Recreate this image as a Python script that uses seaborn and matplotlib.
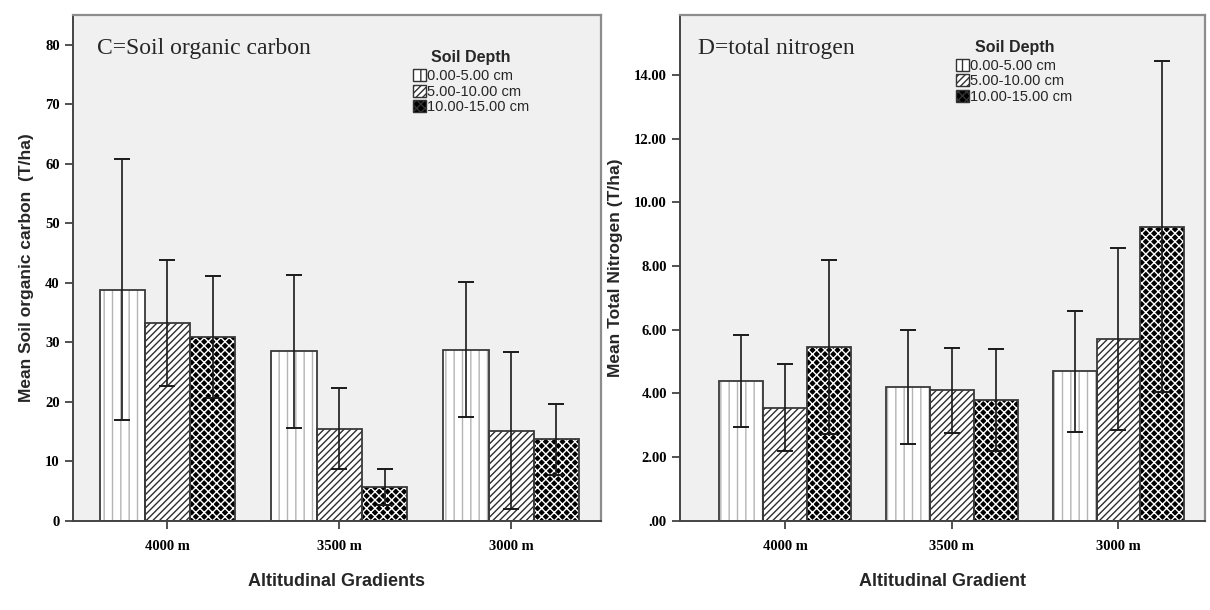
import numpy as np
import pandas as pd
import matplotlib
matplotlib.use("Agg")
import matplotlib.pyplot as plt
from matplotlib.patches import Patch, Rectangle
from matplotlib.ticker import FuncFormatter
import seaborn as sns

# ---------------- data ----------------
altitudes = ["4000 m", "3500 m", "3000 m"]
depths = ["0.00-5.00 cm", "5.00-10.00 cm", "10.00-15.00 cm"]

soc_0_5 = [38.9, 28.5, 28.8]
soc_5_10 = [33.2, 15.5, 15.2]
soc_10_15 = [30.9, 5.7, 13.7]
soc_err_0_5 = [22.0, 12.85, 11.4]
soc_err_5_10 = [10.6, 6.8, 13.2]
soc_err_10_15 = [10.3, 3.0, 6.0]

tn_0_5 = [4.39, 4.21, 4.70]
tn_5_10 = [3.56, 4.10, 5.71]
tn_10_15 = [5.45, 3.80, 9.24]
tn_err_0_5 = [1.44, 1.78, 1.90]
tn_err_5_10 = [1.38, 1.33, 2.85]
tn_err_10_15 = [2.73, 1.60, 5.20]

soc_ticks = [0, 10, 20, 30, 40, 50, 60, 70, 80]
tn_ticks = [0, 2, 4, 6, 8, 10, 12, 14]


def make_df(v0, v1, v2, e0, e1, e2):
    rows = []
    for d, vals, errs in zip(depths, [v0, v1, v2], [e0, e1, e2]):
        for a, v, e in zip(altitudes, vals, errs):
            rows.append({"alt": a, "depth": d, "value": v, "err": e})
    return pd.DataFrame(rows)


soc_df = make_df(soc_0_5, soc_5_10, soc_10_15, soc_err_0_5, soc_err_5_10, soc_err_10_15)
tn_df = make_df(tn_0_5, tn_5_10, tn_10_15, tn_err_0_5, tn_err_5_10, tn_err_10_15)

# ---------------- style ----------------
sns.set_style("ticks")
plt.rcParams["font.family"] = ["Liberation Sans", "DejaVu Sans"]
plt.rcParams["hatch.linewidth"] = 1.0

SERIF = ["Liberation Serif", "DejaVu Serif"]
SANS = ["Liberation Sans", "DejaVu Sans"]

styles = [
    dict(face="white", hatch="||", hcolor="#b4b4b4"),
    dict(face="white", hatch="/////", hcolor="#2e2e2e"),
    dict(face="black", hatch="xxxx", hcolor="white"),
]

fig = plt.figure(figsize=(12.1, 6.1), dpi=100)
ax1 = fig.add_axes([0.0603, 0.146, 0.436, 0.829])
ax2 = fig.add_axes([0.562, 0.146, 0.434, 0.829])


def draw(ax, df, ymax, ticks, fmt, ylabel, xlabel, title, title_x, xlim, leg_anchor):
    ax.set_facecolor("#F0F0F0")
    sns.barplot(data=df, x="alt", y="value", hue="depth", order=altitudes,
                hue_order=depths, errorbar=None, width=0.79, ax=ax,
                legend=False, saturation=1)
    for cont, st, d in zip(ax.containers, styles, depths):
        sub = df[df["depth"] == d].set_index("alt").loc[altitudes]
        xs, hs = [], []
        for p in cont.patches:
            p.set_facecolor(st["face"])
            p.set_hatch(st["hatch"])
            p.set_edgecolor(st["hcolor"])
            p.set_linewidth(0)
            ax.add_patch(Rectangle(p.get_xy(), p.get_width(), p.get_height(),
                                   fill=False, edgecolor="#3a3a3a", lw=1.3, zorder=2.5))
            xs.append(p.get_x() + p.get_width() / 2)
            hs.append(p.get_height())
        ax.errorbar(xs, hs, yerr=sub["err"].values, fmt="none", ecolor="#1a1a1a",
                    elinewidth=1.2, capsize=5.5, capthick=1.4, zorder=4)
    ax.set_xlim(*xlim)
    ax.set_ylim(0, ymax)
    ax.set_yticks(ticks)
    ax.yaxis.set_major_formatter(FuncFormatter(fmt))
    for lab in ax.get_yticklabels() + ax.get_xticklabels():
        lab.set_fontfamily(SERIF)
        lab.set_fontweight("bold")
        lab.set_fontsize(10.5)
    ax.tick_params(axis="both", direction="out", length=6, width=1.2, colors="#333333",
                   labelcolor="black")
    ax.tick_params(axis="x", pad=8)
    for s in ["left", "bottom"]:
        ax.spines[s].set_color("#444444")
        ax.spines[s].set_linewidth(1.4)
    for s in ["top", "right"]:
        ax.spines[s].set_visible(True)
        ax.spines[s].set_color("#8c8c8c")
        ax.spines[s].set_linewidth(1.6)
    ax.set_ylabel(ylabel, fontfamily=SANS, fontweight="bold", fontsize=12.5, labelpad=8)
    ax.set_xlabel(xlabel, fontfamily=SANS, fontweight="bold", fontsize=13, labelpad=14)
    ax.text(title_x, 0.955, title, transform=ax.transAxes, fontfamily=SERIF,
            fontsize=17, va="top", ha="left")
    handles = [Patch(facecolor=st["face"], hatch=st["hatch"], edgecolor="#333333",
                     linewidth=1) for st in styles]
    leg = ax.legend(handles, depths, title="Soil Depth", frameon=False,
                    loc="upper left", bbox_to_anchor=leg_anchor,
                    bbox_transform=fig.transFigure,
                    handlelength=0.9, handleheight=0.9, handletextpad=0.1,
                    labelspacing=0.1, borderaxespad=0, borderpad=0, fontsize=10.5,
                    title_fontproperties={"weight": "bold", "size": 11.5,
                                          "family": SANS})
    leg._legend_box.align = "center"
    leg._legend_box.sep = 3


draw(ax1, soc_df, 85.0, soc_ticks, lambda v, p: f"{v:.0f}",
     "Mean Soil organic carbon  (T/ha)", "Altitudinal Gradients",
     "C=Soil organic carbon", 0.045, (-0.55, 2.52), (0.341, 0.918))
draw(ax2, tn_df, 15.87, tn_ticks,
     lambda v, p: ".00" if v == 0 else f"{v:.2f}",
     "Mean Total Nitrogen (T/ha)", "Altitudinal Gradient",
     "D=total nitrogen", 0.035, (-0.63, 2.52), (0.790, 0.935))

fig.savefig("out.png", dpi=100, facecolor="white")
